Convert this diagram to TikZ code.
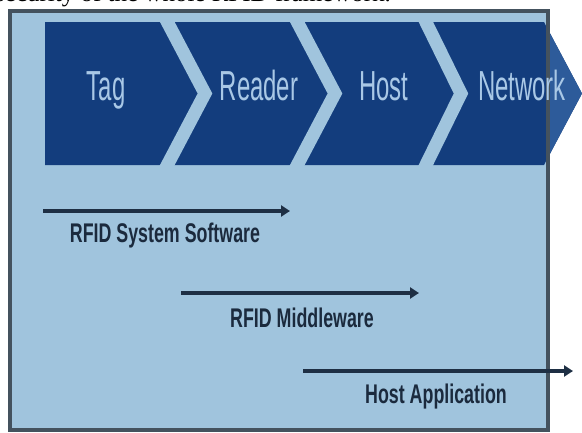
\documentclass[tikz,border=0pt]{standalone}
\usepackage{fontspec}
\setmainfont{Liberation Sans}
\newfontfamily\captionserif{Liberation Serif}
\usetikzlibrary{arrows.meta}
\definecolor{framefill}{HTML}{A0C4DD}
\definecolor{frameline}{HTML}{44525E}
\definecolor{bandblue}{HTML}{133D7D}
\definecolor{tipblue}{HTML}{2D5B9A}
\definecolor{bandtext}{HTML}{A9C8E6}
\definecolor{labeltext}{HTML}{1B2A3D}
\definecolor{arrowline}{HTML}{1E2F44}
\tikzset{
  stagelabel/.style={anchor=base, inner sep=0pt, text=bandtext,
    font=\fontsize{42}{48}\selectfont},
  swlabel/.style={anchor=base, inner sep=0pt, text=labeltext,
    font=\bfseries\fontsize{27}{30}\selectfont},
  swarrow/.style={draw=arrowline, line width=3.5pt,
    -{Triangle[length=9pt,width=11pt]}},
  stripe/.style={draw=framefill, line width=13pt, miter limit=20}
}
\newcommand{\narrow}[1]{\scalebox{0.57}[1]{#1}}
\newcommand{\narrowb}[1]{\scalebox{0.66}[1]{#1}}
\begin{document}
\begin{tikzpicture}[x=1pt,y=-1pt]
\useasboundingbox (0,0) rectangle (582,432);
\clip (0,0) rectangle (582,432);
\fill[white] (0,0) rectangle (582,432);
% cropped caption line above the figure
\node[anchor=base west, inner sep=0pt, font=\captionserif\fontsize{25}{30}\selectfont]
  (caption) at (-5,1) {security of the whole RFID framework.};
% frame fill
\fill[framefill] (10,11) rectangle (548,430);
% dark band with the four chevrons
\fill[bandblue] (45,22) -- (544,22) -- (582,93.5) -- (544,165) -- (45,165) -- cycle;
\begin{scope}
  \clip (0,22) rectangle (548,165);
  \draw[stripe] (161,10) -- (205,93.5) -- (161,177);
  \draw[stripe] (291,10) -- (335,93.5) -- (291,177);
  \draw[stripe] (420,10) -- (461,93.5) -- (420,177);
\end{scope}
\begin{scope}
  \clip (549,0) rectangle (582,432);
  \fill[tipblue] (544,22) -- (582,93.5) -- (544,165) -- cycle;
\end{scope}
% frame border
\draw[frameline, line width=3.5pt] (10,11) rectangle (548,430);
% stage labels
\node[stagelabel] (tag) at (106,100) {\narrow{Tag}};
\node[stagelabel] (reader) at (259,100) {\narrow{Reader}};
\node[stagelabel] (host) at (384,100) {\narrow{Host}};
\node[stagelabel] (network) at (522,100) {\narrow{Network}};
% software layers
\coordinate (s1) at (43,211);  \coordinate (e1) at (290,211);
\coordinate (s2) at (181,293); \coordinate (e2) at (419,293);
\coordinate (s3) at (303,371); \coordinate (e3) at (573,371);
\draw[swarrow] (s1) -- (e1);
\draw[swarrow] (s2) -- (e2);
\draw[swarrow] (s3) -- (e3);
\node[swlabel] (sys) at (165,242) {\narrowb{RFID System Software}};
\node[swlabel] (mid) at (302,327) {\narrowb{RFID Middleware}};
\node[swlabel] (app) at (436,403) {\narrowb{Host Application}};
\end{tikzpicture}
\end{document}
